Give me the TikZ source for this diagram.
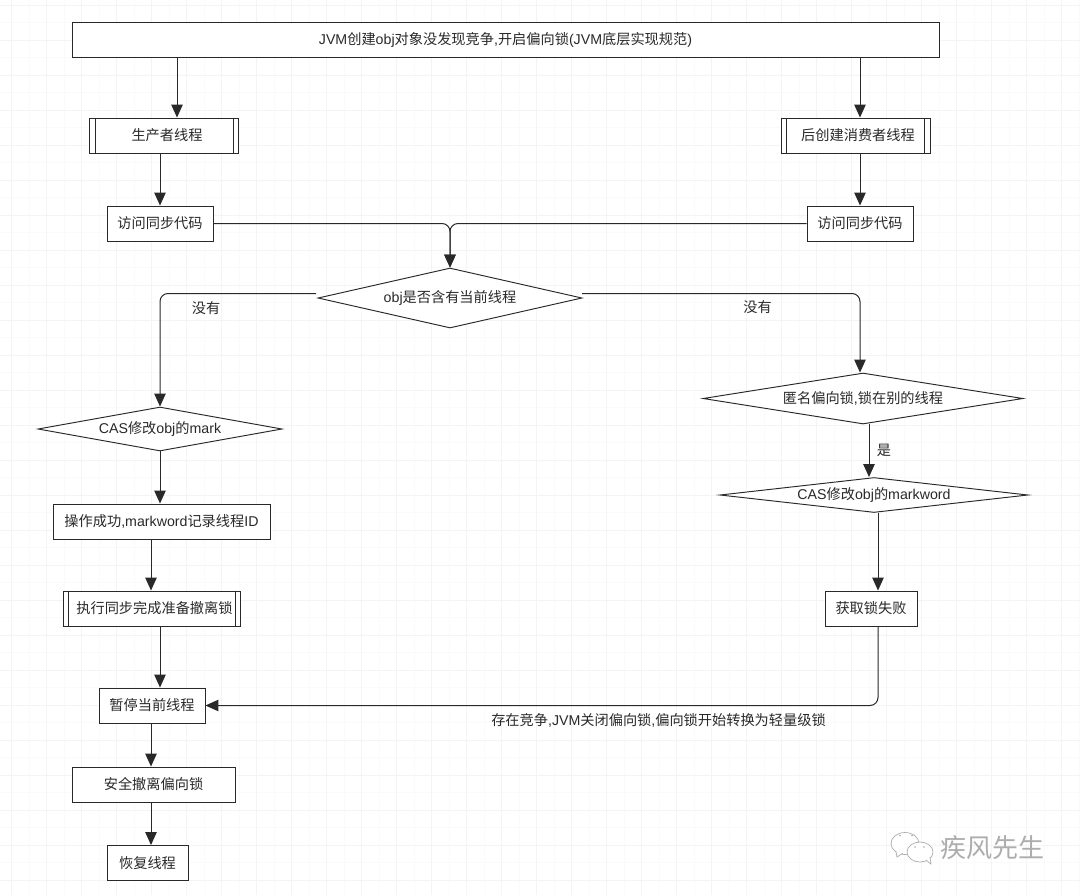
\documentclass[tikz,border=0pt]{standalone}
\usepackage{fontspec}
\setmainfont{Liberation Sans}
\newfontfamily\cjk{Noto Sans CJK SC}
\usetikzlibrary{calc,shapes.geometric,arrows.meta}
\newcommand{\zh}[1]{{\cjk #1}}
\definecolor{linegray}{gray}{0.16}
\definecolor{gridgray}{gray}{0.955}
\definecolor{gridfaint}{gray}{0.98}
\definecolor{markgray}{gray}{0.68}
\tikzset{
	box/.style={draw=linegray,line width=0.95pt,fill=white,rectangle,inner sep=0pt,font=\fontsize{14.2}{16}\selectfont,text=linegray},
	choice/.style={draw=linegray,line width=0.95pt,fill=white,diamond,inner sep=0pt,font=\fontsize{14.2}{16}\selectfont,text=linegray},
	flow/.style={draw=linegray,line width=1pt,-{Triangle[length=13pt,width=11.5pt]}},
	flowbend/.style={flow,rounded corners=8pt},
	word/.style={font=\fontsize{14.2}{16}\selectfont,text=linegray,inner sep=0pt},
	brandtext/.style={font=\fontsize{26}{28}\selectfont,text=markgray,inner sep=0pt},
	bubble/.style={draw=markgray,line width=0.7pt,fill=white}
}
\begin{document}
\begin{tikzpicture}[x=1pt,y=-1pt]
		\useasboundingbox (0,0) rectangle (1080,895);
		\fill [white] (0,0) rectangle (1080,895);
		\foreach \gx in {0,...,61}
			\draw [gridfaint,line width=0.6pt] (11.7+17.5*\gx,0) -- (11.7+17.5*\gx,895);
		\foreach \gy in {0,...,51}
			\draw [gridfaint,line width=0.6pt] (0,5+17.5*\gy) -- (1080,5+17.5*\gy);
		\foreach \gx in {0,...,30}
			\draw [gridgray,line width=0.6pt] (11.7+35*\gx,0) -- (11.7+35*\gx,895);
		\foreach \gy in {0,...,25}
			\draw [gridgray,line width=0.6pt] (0,5+35*\gy) -- (1080,5+35*\gy);
		
		\node [box,minimum width=867pt,minimum height=35pt] (jvm) at (505.5,39.5) {JVM\zh{创建}obj\zh{对象没发现竞争}{,}\zh{开启偏向锁}(JVM\zh{底层实现规范})};
		\node [box,minimum width=149pt,minimum height=35pt] (prod) at (164,135.5) {\hspace*{6pt}\zh{生产者线程}};
		\node [box,minimum width=149pt,minimum height=35pt] (cons) at (855.5,135.5) {\hspace*{5pt}\zh{后创建消费者线程}};
		\node [box,minimum width=106pt,minimum height=35pt] (visitL) at (160,223.5) {\zh{访问同步代码}};
		\node [box,minimum width=106pt,minimum height=35pt] (visitR) at (860,223.5) {\zh{访问同步代码}};
		\node [choice,aspect=4.4,minimum width=264pt,minimum height=60pt] (owner) at (450,298) {obj\zh{是否含有当前线程}};
		\node [choice,aspect=5.545,minimum width=244pt,minimum height=44pt] (casL) at (160,429) {CAS\zh{修改}obj\zh{的}mark};
		\node [choice,aspect=6.27,minimum width=320pt,minimum height=51pt] (anon) at (863,398.5) {\zh{匿名偏向锁}{,}\zh{锁在别的线程}};
		\node [choice,aspect=8.8,minimum width=308pt,minimum height=35pt] (casR) at (874,495) {CAS\zh{修改}obj\zh{的}markword};
		\node [box,minimum width=217pt,minimum height=35pt] (done) at (161.5,521.5) {\zh{操作成功}{,}markword\zh{记录线程}ID};
		\node [box,minimum width=92pt,minimum height=35pt] (fail) at (871,608.5) {\zh{获取锁失败}};
		\node [box,minimum width=177pt,minimum height=35pt] (exec) at (152,608.5) {\hspace*{5pt}\zh{执行同步完成准备撤离锁}};
		\node [box,minimum width=106pt,minimum height=35pt] (pause) at (152,705.5) {\zh{暂停当前线程}};
		\node [box,minimum width=163pt,minimum height=35pt] (revoke) at (153.5,784.5) {\zh{安全撤离偏向锁}};
		\node [box,minimum width=81pt,minimum height=35pt] (resume) at (147.5,863) {\zh{恢复线程}};
		
		\foreach \n/\w in {prod/6,cons/6,exec/5.5} {
			\draw [linegray,line width=0.95pt] ($(\n.north west)+(\w,0)$) -- ($(\n.south west)+(\w,0)$);
			\draw [linegray,line width=0.95pt] ($(\n.north east)+(-\w,0)$) -- ($(\n.south east)+(-\w,0)$);
		}
		
		\coordinate (colA) at (177,0);
		\coordinate (colB) at (860,0);
		\coordinate (colC) at (869,0);
		\coordinate (colD) at (878,0);
		\coordinate (colE) at (160,0);
		\coordinate (colF) at (151,0);
		\coordinate (ownerL) at (316,293.5);
		\coordinate (ownerR) at (582,293.5);
		
		\draw [flow] (jvm.south -| colA) -- (prod.north -| colA);
		\draw [flow] (jvm.south -| colB) -- (cons.north -| colB);
		\draw [flow] (prod.south -| visitL) -- (visitL.north);
		\draw [flow] (cons.south -| visitR) -- (visitR.north);
		\draw [flowbend] (visitL.east) -| (owner.north);
		\draw [flowbend] (visitR.west) -| (owner.north);
		\draw [flowbend] (ownerL) -| (casL.north);
		\draw [flowbend] (ownerR) -| (anon.north -| colB);
		\draw [flow] (anon.south -| colC) -- (casR.north -| colC);
		\draw [flow] (casR.south -| colD) -- (fail.north -| colD);
		\draw [flowbend] (fail.south -| colD) |- (pause.east);
		\draw [flow] (casL.south) -- (done.north -| colE);
		\draw [flow] (done.south -| colF) -- (exec.north -| colF);
		\draw [flow] (exec.south -| colE) -- (pause.north -| colE);
		\draw [flow] (pause.south -| colF) -- (revoke.north -| colF);
		\draw [flow] (revoke.south -| colF) -- (resume.north -| colF);
		
		\node [word] (noL) at (206,308.5) {\zh{没有}};
		\node [word] (noR) at (757.5,307.5) {\zh{没有}};
		\node [word] (yes) at (884,450) {\zh{是}};
		\node [word] (race) at (658.5,720.5) {\zh{存在竞争}{,}JVM\zh{关闭偏向锁}{,}\zh{偏向锁开始转换为轻量级锁}};
		
		\draw [bubble] (905,843.5) ellipse (14pt and 11pt);
		\draw [bubble] (896,852) -- (897,857) -- (903,853);
		\draw [bubble] (920,852) ellipse (13pt and 10pt);
		\draw [bubble] (926,860) -- (931,864) -- (930,857);
		\foreach \ex/\ey in {900/835.5,912/835.5,915/847,924/847}
			\fill [markgray] (\ex,\ey) circle (0.9pt);
		\node [brandtext] (brand) at (992,847.5) {\zh{疾风先生}};
\end{tikzpicture}
\end{document}
